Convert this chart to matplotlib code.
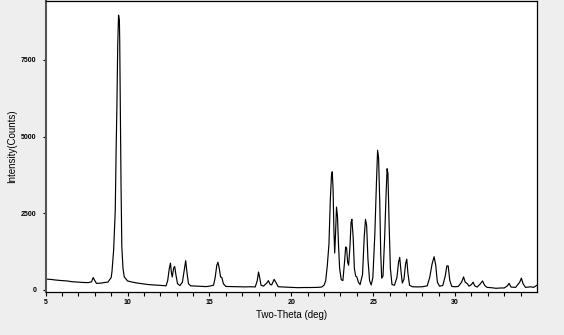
import matplotlib.pyplot as plt

# values (2-theta in deg, intensity in counts)
two_theta = [5.0, 5.3, 5.6, 6.0, 6.3, 6.6, 7.0, 7.3, 7.6, 7.8, 7.9, 8.0, 8.1, 8.4, 8.6, 8.8,
             9.0, 9.05, 9.15, 9.25, 9.3, 9.35, 9.4, 9.45, 9.5, 9.52, 9.57, 9.6, 9.65, 9.72, 9.8,
             10.0, 10.3, 10.6, 11.0, 11.3, 11.6, 12.0, 12.35, 12.45, 12.55, 12.62, 12.68, 12.73,
             12.82, 12.88, 12.95, 13.05, 13.2, 13.35, 13.45, 13.55, 13.62, 13.72, 13.85, 14.2,
             14.5, 14.8, 15.0, 15.25, 15.35, 15.45, 15.52, 15.6, 15.68, 15.76, 15.85, 16.0, 16.4,
             16.8, 17.2, 17.5, 17.8, 17.92, 18.0, 18.07, 18.15, 18.3, 18.5, 18.6, 18.7, 18.8,
             18.95, 19.05, 19.2, 19.6, 20.0, 20.4, 20.8, 21.2, 21.6, 21.85, 22.0, 22.1, 22.2,
             22.3, 22.38, 22.45, 22.5, 22.55, 22.6, 22.65, 22.7, 22.76, 22.82, 22.88, 22.95,
             23.05, 23.15, 23.25, 23.32, 23.38, 23.44, 23.5, 23.58, 23.65, 23.7, 23.78, 23.85,
             23.93, 24.0, 24.1, 24.2, 24.35, 24.45, 24.53, 24.6, 24.68, 24.78, 24.88, 24.98,
             25.1, 25.2, 25.27, 25.33, 25.4, 25.46, 25.52, 25.6, 25.7, 25.78, 25.85, 25.9,
             25.97, 26.05, 26.15, 26.3, 26.45, 26.55, 26.62, 26.7, 26.78, 26.88, 26.98, 27.05,
             27.12, 27.22, 27.4, 27.7, 28.0, 28.3, 28.45, 28.6, 28.72, 28.82, 28.92, 29.05,
             29.25, 29.4, 29.5, 29.58, 29.68, 29.8, 30.0, 30.2, 30.4, 30.52, 30.62, 30.75,
             30.85, 31.0, 31.1, 31.2, 31.35, 31.55, 31.68, 31.8, 31.95, 32.2, 32.5, 32.8,
             33.0, 33.2, 33.3, 33.42, 33.7, 33.95, 34.05, 34.15, 34.3, 34.5, 34.6, 34.8, 35.0]
counts = [350, 340, 320, 300, 290, 265, 250, 240, 235, 260, 400, 300, 210, 220, 240, 250,
          400, 600, 1300, 2600, 4500, 6000, 8000, 8960, 8800, 8170, 5000, 3500, 1400, 700, 420,
          290, 250, 220, 190, 170, 160, 145, 130, 300, 700, 870, 550, 420,
          720, 760, 500, 200, 140, 250, 600, 950, 600, 200, 130, 120,
          110, 105, 120, 150, 400, 800, 900, 700, 420, 400, 200, 110, 105,
          100, 95, 100, 95, 300, 580, 400, 150, 120, 220, 300, 180, 160,
          340, 250, 100, 90, 80, 70, 75, 75, 80, 90, 150, 300, 800,
          1500, 2900, 3700, 3850, 3300, 2000, 1200, 1800, 2700, 2400, 1500, 700,
          330, 300, 900, 1400, 1350, 900, 800, 1400, 2200, 2300, 1700, 700,
          450, 420, 250, 170, 500, 1700, 2300, 2100, 1000, 300, 160, 400,
          1800, 3500, 4550, 4300, 2900, 1200, 380, 450, 1700, 3000, 3950, 3800,
          2200, 700, 170, 150, 400, 900, 1060, 600, 220, 350, 850, 1000,
          550, 150, 100, 95, 100, 130, 400, 850, 1080, 800, 250, 120,
          140, 450, 780, 780, 300, 110, 100, 110, 250, 420, 250, 200,
          120, 170, 250, 130, 90, 200, 290, 150, 80, 70, 50, 60,
          60, 130, 210, 90, 80, 250, 380, 200, 80, 90, 100, 80, 150]

fig = plt.figure(figsize=(5.64, 3.35), dpi=100, facecolor="#eeeeee")
ax = fig.add_axes([0.081, 0.128, 0.871, 0.870])
ax.set_facecolor("white")

ax.plot(two_theta, counts, color="black", linewidth=0.85)

ax.set_xlim(5, 35)
ax.set_ylim(-75, 9430)
ax.set_xticks([5, 10, 15, 20, 25, 30])
ax.set_xticks(range(5, 35), minor=True)
ax.set_yticks([0, 2500, 5000, 7500])

ax.tick_params(axis="both", which="both", direction="out", labelsize=5,
               length=3, width=0.8, pad=2)
ax.tick_params(axis="y", length=2.5, pad=4)
for lbl in ax.get_xticklabels() + ax.get_yticklabels():
    lbl.set_fontfamily("Liberation Sans")
    lbl.set_fontweight("bold")

for side in ["top", "right", "bottom"]:
    ax.spines[side].set_color("black")
    ax.spines[side].set_linewidth(0.9)
ax.spines["left"].set_color("#555555")
ax.spines["left"].set_linewidth(1.5)

ax.set_xlabel("Two-Theta (deg)", fontsize=7, family="Liberation Sans", labelpad=3)
ax.set_ylabel("Intensity(Counts)", fontsize=7, family="Liberation Sans", labelpad=3)

fig.savefig("out.png", dpi=100, facecolor=fig.get_facecolor())
